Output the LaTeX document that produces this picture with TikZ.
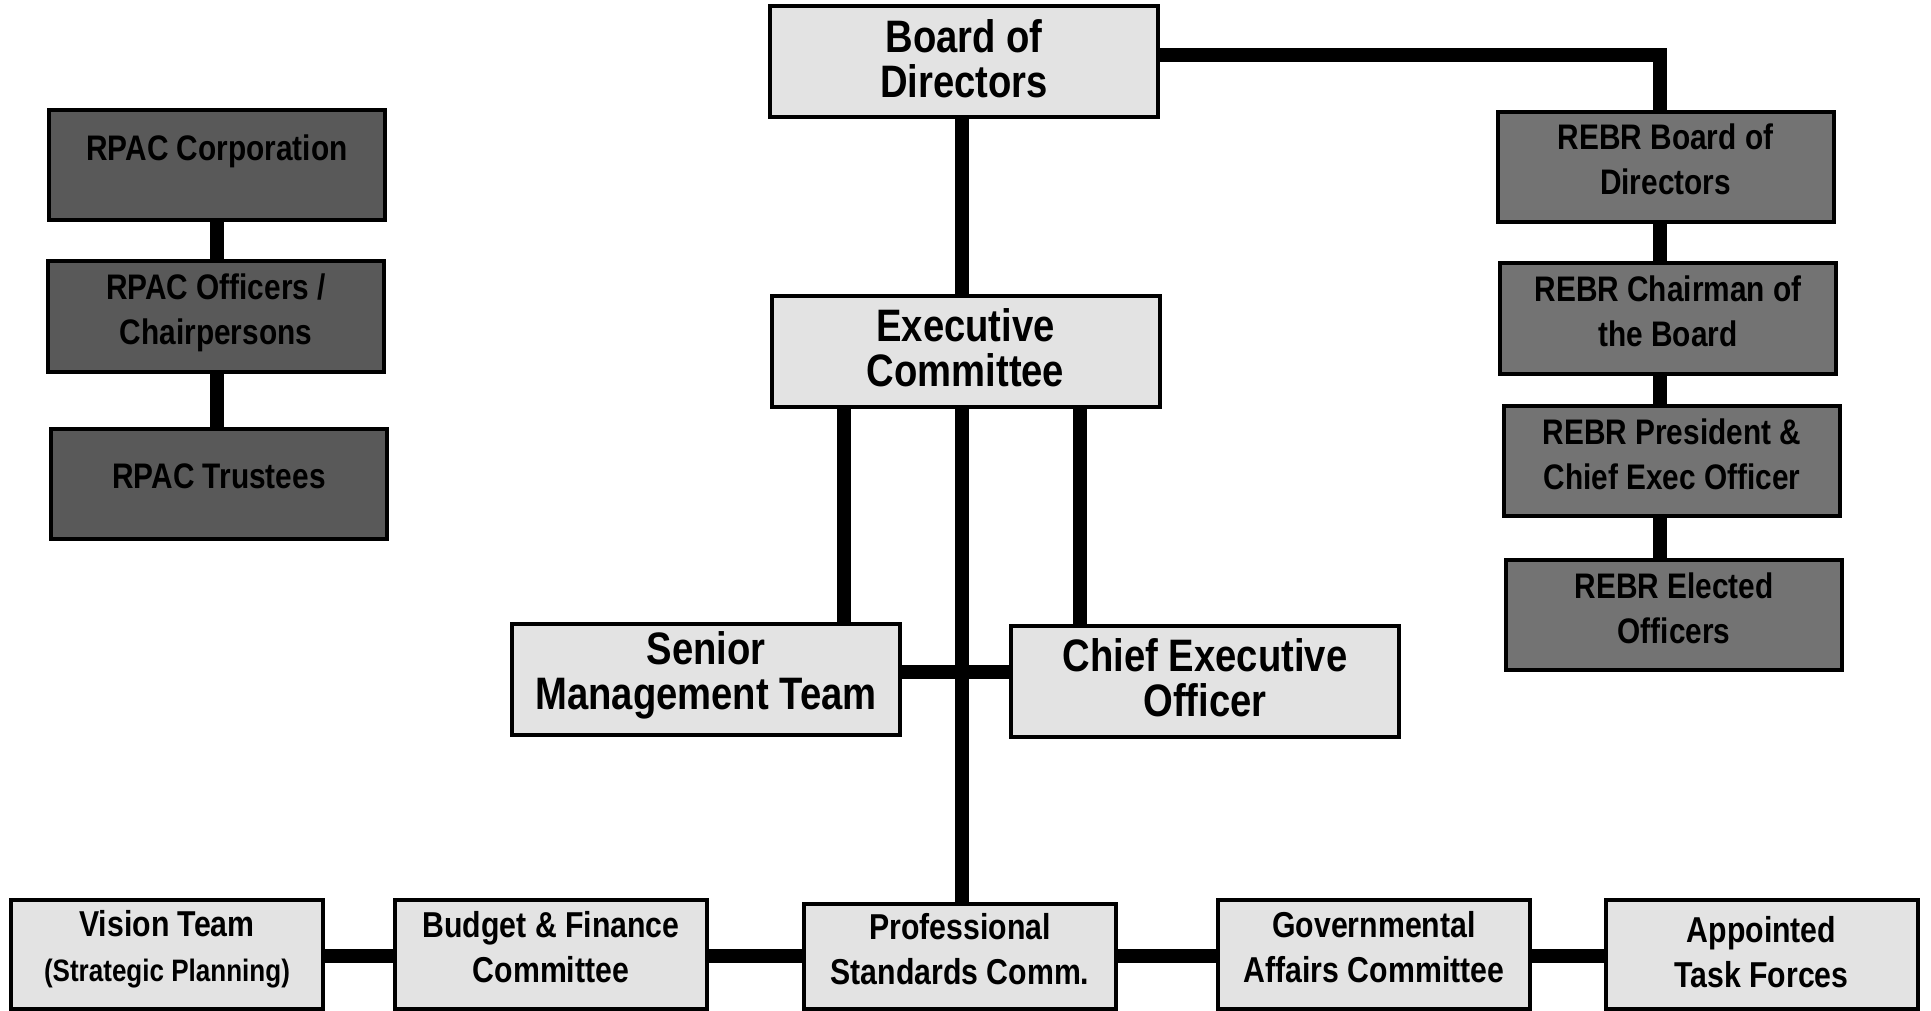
\documentclass[tikz,border=0pt]{standalone}
\usepackage{fontspec}
\setmainfont{Liberation Sans}[FakeStretch=0.84]
\usetikzlibrary{backgrounds}
\definecolor{lightbox}{HTML}{E3E3E3}
\definecolor{rpacfill}{HTML}{595959}
\definecolor{rebrfill}{HTML}{737373}
\newcommand{\bigtxt}{\fontsize{45.5}{45}\selectfont\bfseries}
\newcommand{\midtxt}{\fontsize{35.5}{45}\selectfont\bfseries}
\newcommand{\bottxt}{\fontsize{36}{45}\selectfont\bfseries}
\newcommand{\smalltxt}{\fontsize{31}{45}\selectfont\bfseries}
\begin{document}
\begin{tikzpicture}[x=1pt,y=-1pt,
  boxbase/.style={draw=black,line width=4pt,inner sep=0pt},
  lightb/.style={boxbase,fill=lightbox},
  rpacb/.style={boxbase,fill=rpacfill},
  rebrb/.style={boxbase,fill=rebrfill},
  bigbox/.style={minimum width=388pt,minimum height=111pt},
  midbox/.style={minimum width=336pt,minimum height=110pt},
  botbox/.style={minimum width=312pt,minimum height=109pt},
  lbl/.style={align=center,inner sep=0pt,text=black},
  biglbl/.style={lbl,font=\bigtxt},
  midlbl/.style={lbl,font=\midtxt},
  botlbl/.style={lbl,font=\bottxt},
  conn/.style={line width=14pt,draw=black}]
\useasboundingbox (0,0) rectangle (1931,1011);
% main boxes
\node[lightb,bigbox] (board) at (964,61.5) {};
\node[lightb,bigbox] (exec) at (965.5,351.5) {};
\node[lightb,bigbox] (smt) at (706,679.5) {};
\node[lightb,bigbox] (ceo) at (1205,681.5) {};
% bottom row
\node[lightb,botbox] (vision) at (167,954) {};
\node[lightb,botbox] (budget) at (551,954) {};
\node[lightb,botbox,minimum height=105pt] (prof) at (960,956) {};
\node[lightb,botbox] (gov) at (1374,954) {};
\node[lightb,botbox] (appt) at (1761.5,954) {};
% RPAC column
\node[rpacb,midbox] (rpac1) at (217,165) {};
\node[rpacb,midbox] (rpac2) at (216,316.5) {};
\node[rpacb,midbox] (rpac3) at (219,483.5) {};
% REBR column
\node[rebrb,midbox] (rebr1) at (1665.5,167) {};
\node[rebrb,midbox] (rebr2) at (1668,318.5) {};
\node[rebrb,midbox] (rebr3) at (1672,461) {};
\node[rebrb,midbox] (rebr4) at (1674,615) {};
% labels
\node[biglbl] (board-t) at (964,59) {Board of\\Directors};
\node[biglbl] (exec-t) at (965.5,348) {Executive\\Committee};
\node[biglbl] (smt-t) at (706,675.5) {Senior\\Management Team};
\node[biglbl] (ceo-t) at (1205,677.5) {Chief Executive\\Officer};
\node[botlbl] (vision-t) at (167,949.5) {Vision Team\\\smalltxt (Strategic Planning)};
\node[botlbl] (budget-t) at (551,947) {Budget \& Finance\\Committee};
\node[botlbl] (prof-t) at (960,949) {Professional\\Standards Comm.};
\node[botlbl] (gov-t) at (1374,947.5) {Governmental\\Affairs Committee};
\node[botlbl] (appt-t) at (1761.5,952) {Appointed\\Task Forces};
\node[midlbl] (rpac1-t) at (217,151.5) {RPAC Corporation};
\node[midlbl] (rpac2-t) at (216,313) {RPAC Officers /\\Chairpersons};
\node[midlbl] (rpac3-t) at (219,476.5) {RPAC Trustees};
\node[midlbl] (rebr1-t) at (1665.5,159) {REBR Board of\\Directors};
\node[midlbl] (rebr2-t) at (1668,311.5) {REBR Chairman of\\the Board};
\node[midlbl] (rebr3-t) at (1672,454.5) {REBR President \&\\Chief Exec Officer};
\node[midlbl] (rebr4-t) at (1674,608.5) {REBR Elected\\Officers};
% helper coordinates
\coordinate (cx) at (962,0);
\coordinate (lx) at (844,0);
\coordinate (rx) at (1080,0);
\coordinate (rebrx) at (1660,0);
\coordinate (rpacx) at (217,0);
\coordinate (hy) at (0,672);
\coordinate (by) at (0,956);
\coordinate (ty) at (0,55);
\begin{pgfonlayer}{background}
\draw[conn] (board.south -| cx) -- (exec.north -| cx);
\draw[conn] (exec.south -| lx) -- (smt.north -| lx);
\draw[conn] (exec.south -| rx) -- (ceo.north -| rx);
\draw[conn] (exec.south -| cx) -- (prof.north -| cx);
\draw[conn] (smt.east |- hy) -- (ceo.west |- hy);
\draw[conn] (vision.east |- by) -- (budget.west |- by);
\draw[conn] (budget.east |- by) -- (prof.west |- by);
\draw[conn] (prof.east |- by) -- (gov.west |- by);
\draw[conn] (gov.east |- by) -- (appt.west |- by);
\draw[conn] (board.east |- ty) -| (rebr1.north -| rebrx);
\draw[conn] (rebr1.south -| rebrx) -- (rebr2.north -| rebrx);
\draw[conn] (rebr2.south -| rebrx) -- (rebr3.north -| rebrx);
\draw[conn] (rebr3.south -| rebrx) -- (rebr4.north -| rebrx);
\draw[conn] (rpac1.south -| rpacx) -- (rpac2.north -| rpacx);
\draw[conn] (rpac2.south -| rpacx) -- (rpac3.north -| rpacx);
\end{pgfonlayer}
\end{tikzpicture}
\end{document}
